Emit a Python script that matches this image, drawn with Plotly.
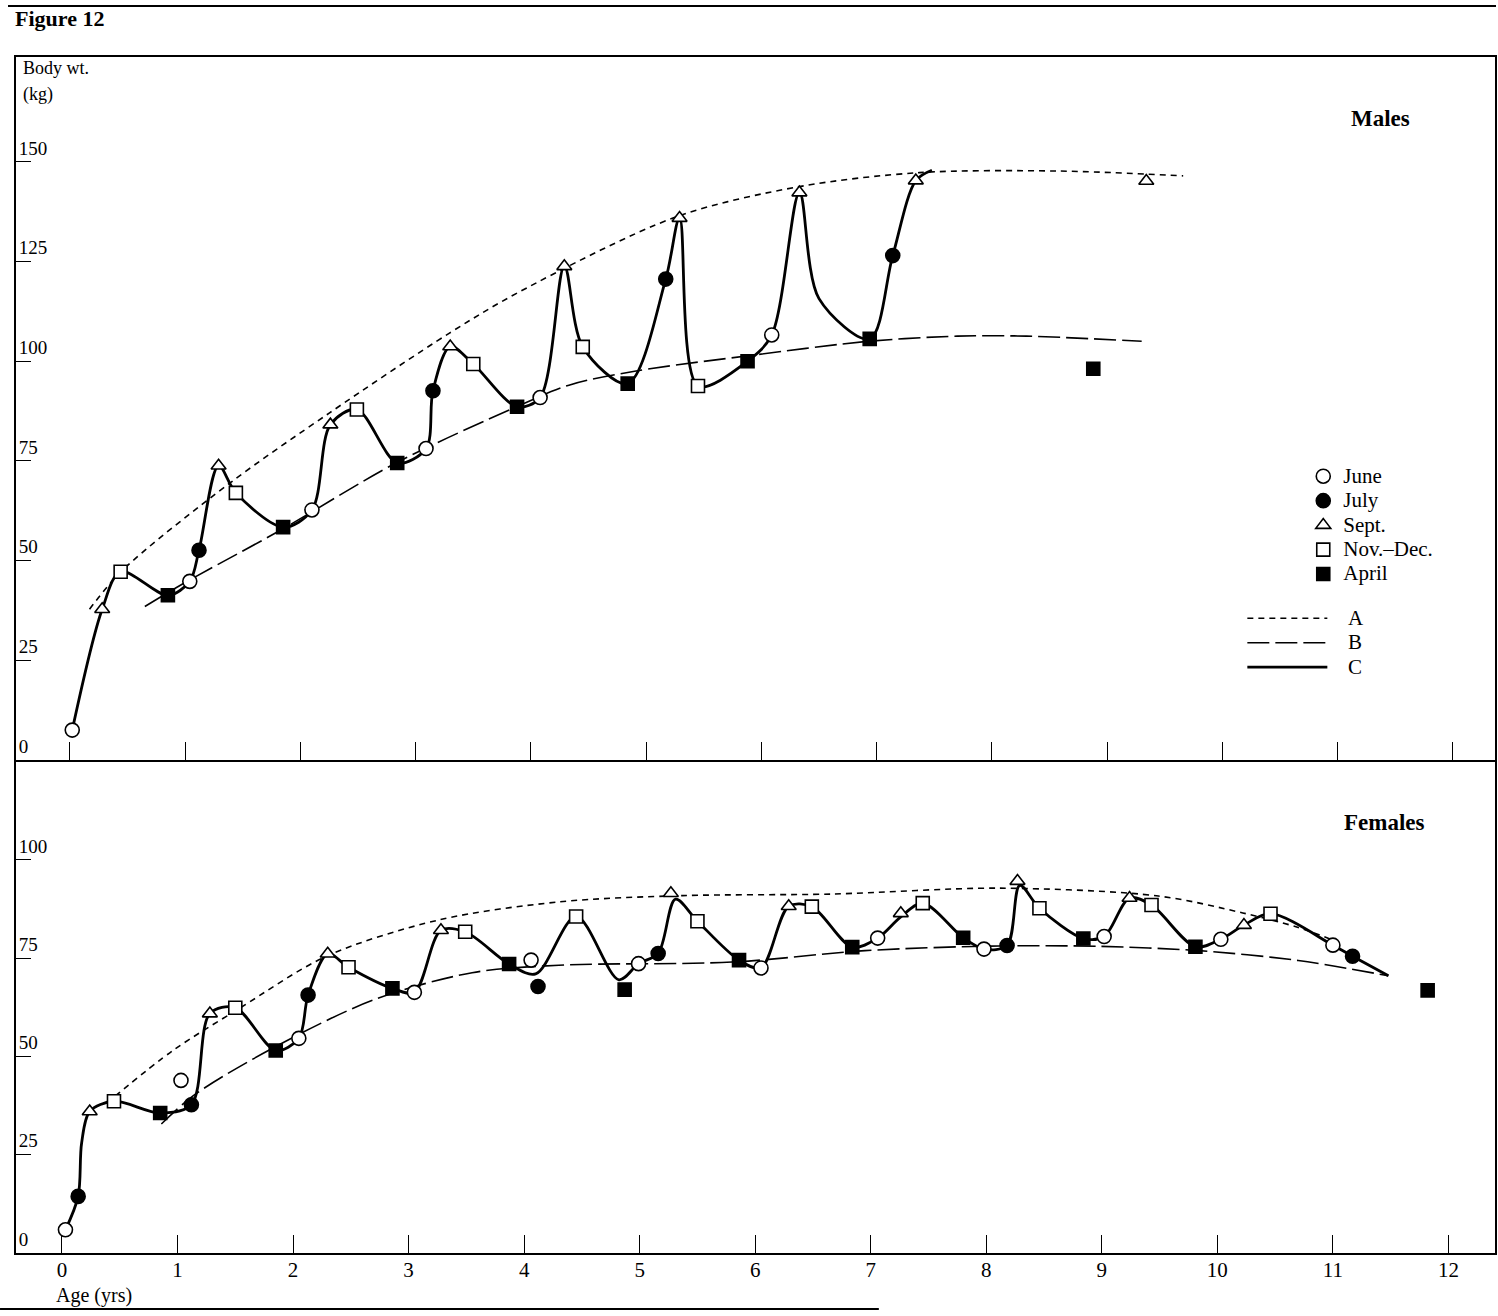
import plotly.graph_objects as go

FONT = "Liberation Serif"
INK = "black"

# ---------------- Males: mean body weight (kg) by age (yrs) ----------------
m_june_age = [0.02, 1.04, 2.10, 3.09, 4.08, 6.09]
m_june_wt = [7.5, 44.8, 62.7, 78.1, 90.9, 106.6]
m_july_age = [1.12, 3.15, 5.17, 7.14]
m_july_wt = [52.6, 92.6, 120.6, 126.5]
m_sept_age = [0.28, 1.29, 2.26, 3.30, 4.29, 5.29, 6.33, 7.34, 9.34]
m_sept_wt = [37.8, 73.8, 84.1, 103.7, 123.8, 135.9, 142.3, 145.3, 145.2]
m_nov_age = [0.44, 1.44, 2.49, 3.50, 4.45, 5.45]
m_nov_wt = [47.2, 67.0, 87.9, 99.3, 103.6, 93.8]
m_apr_age = [0.85, 1.85, 2.84, 3.88, 4.84, 5.88, 6.94, 8.88]
m_apr_wt = [41.3, 58.4, 74.5, 88.6, 94.4, 100.0, 105.6, 98.1]

# curve A (upper envelope), B (lower envelope), C (seasonal course)
m_a_age = [0.17, 0.45, 1.39, 2.25, 3.29, 3.90, 5.26, 6.33, 7.37, 8.58, 9.66]
m_a_wt = [37.8, 47.4, 69.5, 87.0, 107.0, 117.4, 136.2, 143.8, 147.3, 147.7, 146.5]
m_b_age = [0.65, 1.00, 1.85, 2.83, 3.87, 4.33, 4.90, 5.92, 6.93, 7.70, 8.30, 9.30]
m_b_wt = [38.5, 44.5, 58.0, 74.5, 88.5, 94.0, 97.5, 101.5, 105.0, 106.3, 106.3, 105.0]
m_c_age = [0.02, 0.28, 0.44, 0.85, 1.04, 1.12, 1.29, 1.44, 1.85, 2.10, 2.26, 2.49,
           2.84, 3.09, 3.15, 3.30, 3.50, 3.88, 4.08, 4.29, 4.45, 4.84, 5.17, 5.29,
           5.45, 5.88, 6.09, 6.33, 6.50, 6.94, 7.14, 7.34, 7.48]
m_c_wt = [7.5, 37.8, 47.2, 41.3, 44.8, 52.6, 73.8, 67.0, 58.4, 62.7, 84.1, 87.9,
          74.5, 78.1, 92.6, 103.7, 99.3, 88.6, 90.9, 123.8, 103.6, 94.4, 120.6, 135.9,
          93.8, 100.0, 106.6, 142.3, 115.7, 105.6, 126.5, 145.3, 147.9]

# ---------------- Females ----------------
f_june_age = [0.03, 1.03, 2.05, 3.05, 4.06, 4.99, 6.05, 7.06, 7.98, 9.02, 10.03, 11.00]
f_june_wt = [5.9, 43.9, 54.6, 66.3, 74.5, 73.6, 72.5, 80.1, 77.3, 80.5, 79.8, 78.3]
f_july_age = [0.14, 1.12, 2.13, 4.12, 5.16, 8.18, 11.17]
f_july_wt = [14.4, 37.7, 65.6, 67.8, 76.2, 78.2, 75.5]
f_sept_age = [0.24, 1.28, 2.30, 3.28, 5.27, 6.29, 7.26, 8.27, 9.24, 10.23]
f_sept_wt = [36.0, 60.9, 76.1, 82.1, 91.5, 88.2, 86.4, 94.6, 90.3, 83.4]
f_nov_age = [0.45, 1.50, 2.48, 3.49, 4.45, 5.50, 6.49, 7.45, 8.46, 9.43, 10.46]
f_nov_wt = [38.6, 62.4, 72.7, 81.7, 85.6, 84.4, 88.1, 89.0, 87.7, 88.5, 86.3]
f_apr_age = [0.85, 1.85, 2.86, 3.87, 4.87, 5.86, 6.84, 7.80, 8.84, 9.81, 11.82]
f_apr_wt = [35.6, 51.5, 67.3, 73.5, 67.0, 74.5, 77.8, 80.2, 80.0, 77.9, 66.8]

f_a_age = [0.46, 0.96, 1.54, 2.29, 3.26, 4.30, 5.37, 6.66, 8.11, 9.49, 10.22, 10.70, 11.00]
f_a_wt = [39.9, 51.5, 62.3, 75.5, 84.7, 89.3, 90.9, 91.3, 92.8, 90.8, 86.5, 82.8, 79.6]
f_b_age = [0.86, 1.14, 1.83, 2.69, 3.55, 4.30, 5.80, 6.95, 8.11, 8.97, 9.84, 10.70, 11.48]
f_b_wt = [32.8, 40.1, 52.2, 64.3, 71.3, 73.2, 74.0, 76.9, 78.1, 78.0, 76.9, 74.4, 70.5]
f_c_age = [0.03, 0.14, 0.17, 0.24, 0.45, 0.85, 1.12, 1.28, 1.50, 1.85, 2.05, 2.13,
           2.30, 2.48, 2.86, 3.05, 3.28, 3.49, 3.87, 4.10, 4.45, 4.82, 4.99, 5.16,
           5.31, 5.50, 5.86, 6.05, 6.29, 6.49, 6.84, 7.06, 7.26, 7.45, 7.80, 7.98,
           8.18, 8.29, 8.46, 8.84, 9.02, 9.24, 9.43, 9.81, 10.03, 10.23, 10.46, 11.00,
           11.17, 11.48]
f_c_wt = [5.9, 14.4, 28.0, 36.0, 38.6, 35.6, 37.7, 60.9, 62.4, 51.5, 54.6, 65.6,
          76.1, 72.7, 67.3, 66.3, 82.1, 81.7, 73.5, 71.0, 85.6, 69.5, 73.6, 76.2,
          90.0, 84.4, 74.5, 72.5, 88.2, 88.1, 77.8, 80.1, 85.5, 89.0, 80.2, 77.3,
          78.2, 93.5, 87.7, 80.0, 80.5, 90.3, 88.5, 77.9, 79.8, 83.4, 86.3, 78.3,
          75.5, 70.5]

ages = list(range(0, 13))
m_yticks = [0, 25, 50, 75, 100, 125, 150]
f_yticks = [0, 25, 50, 75, 100]

months = [
    ("June", "circle", "white"),
    ("July", "circle", INK),
    ("Sept.", "triangle-up", "white"),
    ("Nov.\u2013Dec.", "square", "white"),
    ("April", "square", INK),
]
m_points = [(m_june_age, m_june_wt), (m_july_age, m_july_wt), (m_sept_age, m_sept_wt),
            (m_nov_age, m_nov_wt), (m_apr_age, m_apr_wt)]
f_points = [(f_june_age, f_june_wt), (f_july_age, f_july_wt), (f_sept_age, f_sept_wt),
            (f_nov_age, f_nov_wt), (f_apr_age, f_apr_wt)]
marker_size = {"circle": 14, "triangle-up": 13, "square": 13}

LEG_TEXT = '<span style="font-size:21px">{}</span>'
NBSP = "\u00a0"

fig = go.Figure()


def add_panel(xa, ya, curves, points, show_legend):
    a, b, c = curves
    styles = [("A", a, "6px,5px", 1.6), ("B", b, "22px,6px", 1.6), ("C", c, "solid", 2.8)]
    for name, (xs, ys), dash, width in styles:
        fig.add_trace(go.Scatter(
            x=xs, y=ys, mode="lines", name=LEG_TEXT.format(NBSP * 3 + name),
            xaxis=xa, yaxis=ya,
            line=dict(color=INK, width=width, dash=dash, shape="spline", smoothing=0.9),
            showlegend=show_legend, legend="legend2", hoverinfo="skip"))
    for (name, sym, fill), (xs, ys) in zip(months, points):
        fig.add_trace(go.Scatter(
            x=xs, y=ys, mode="markers", name=LEG_TEXT.format(name), xaxis=xa, yaxis=ya,
            marker=dict(symbol=sym, size=marker_size[sym], color=fill,
                        line=dict(color=INK, width=1.6)),
            showlegend=show_legend, legend="legend"))


add_panel("x", "y", ((m_a_age, m_a_wt), (m_b_age, m_b_wt), (m_c_age, m_c_wt)),
          m_points, True)
add_panel("x2", "y2", ((f_a_age, f_a_wt), (f_b_age, f_b_wt), (f_c_age, f_c_wt)),
          f_points, False)

# page geometry (pixels) -> paper coordinates
W, H = 1498, 1316
L, R, T, B = 16, 1, 57, 63
PW, PH = W - L - R, H - T - B
SPLIT = 760


def px(x):
    return (x - L) / PW


def py(y):
    return (H - B - y) / PH


split = py(SPLIT)

axis_common = dict(showgrid=False, zeroline=False, showline=True, linecolor=INK,
                   linewidth=1.6, ticks="inside", tickcolor=INK, tickwidth=1.4,
                   tickfont=dict(family=FONT, size=18, color=INK))
ytick_font = dict(family=FONT, size=19, color=INK)

fig.update_layout(
    width=W, height=H,
    margin=dict(l=L, r=R, t=T, b=B),
    paper_bgcolor="white", plot_bgcolor="white",
    font=dict(family=FONT, color=INK),
    xaxis=dict(axis_common, domain=[0, 1], anchor="y", range=[-0.468, 12.366],
               tickvals=ages, ticklen=18, showticklabels=False, mirror=True),
    yaxis=dict(axis_common, domain=[split, 1], anchor="x", range=[0, 176.3],
               tickvals=m_yticks, ticklen=15, ticklabelposition="inside top",
               ticklabelstandoff=3, mirror=True, tickfont=ytick_font),
    xaxis2=dict(axis_common, domain=[0, 1], anchor="y2", range=[-0.398, 12.403],
                tickvals=ages, ticklen=18, showticklabels=True, ticklabelstandoff=-3,
                tickfont=dict(family=FONT, size=21, color=INK)),
    yaxis2=dict(axis_common, domain=[0, split], anchor="x2", range=[0, 125.4],
                tickvals=f_yticks, ticklen=15, ticklabelposition="inside top",
                ticklabelstandoff=3, mirror=True, tickfont=ytick_font),
    legend=dict(x=px(1305), y=py(459), xanchor="left", yanchor="top",
                font=dict(family=FONT, size=16.5, color=INK), bgcolor="rgba(0,0,0,0)",
                itemwidth=30, tracegroupgap=0),
    legend2=dict(x=px(1244), y=py(601), xanchor="left", yanchor="top",
                 font=dict(family=FONT, size=16.5, color=INK), bgcolor="rgba(0,0,0,0)",
                 itemwidth=80, tracegroupgap=0),
    showlegend=True,
)

notes = [
    ("<b>Figure 12</b>", 13, 18, "left", 22),
    ("Body wt.", 21, 68, "left", 18),
    ("(kg)", 21, 94, "left", 18),
    ("<b>Males</b>", 1382, 119, "center", 23),
    ("<b>Females</b>", 1386, 822, "center", 23),
    ("Age (yrs)", 54, 1295, "left", 20),
]
for text, x, y, anchor, size in notes:
    fig.add_annotation(text=text, x=px(x), y=py(y), xref="paper", yref="paper",
                       xanchor=anchor, yanchor="middle", showarrow=False,
                       font=dict(family=FONT, size=size, color=INK))

# rules above the caption and below the age label
fig.add_shape(type="line", xref="paper", yref="paper", x0=px(8), x1=px(1498),
              y0=py(6), y1=py(6), line=dict(color=INK, width=2))
fig.add_shape(type="line", xref="paper", yref="paper", x0=px(0), x1=px(880),
              y0=py(1309), y1=py(1309), line=dict(color=INK, width=2))

fig.write_html("out.html")
